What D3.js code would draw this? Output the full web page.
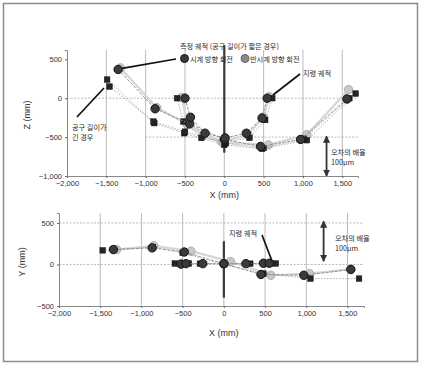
<!DOCTYPE html>
<html>
<head>
<meta charset="utf-8">
<script src="https://cdn.jsdelivr.net/npm/d3@7"></script>
<style>
  body { margin: 0; background: #fff; }
  svg { display: block; }
  text { font-family: "Liberation Sans", Arial, sans-serif; fill: #333; -webkit-font-smoothing: antialiased; }
  .kr { font-family: "Noto Sans CJK KR", sans-serif; fill: #2a2a2a; }
</style>
</head>
<body>
<svg id="chart" width="421" height="372"></svg>
<script>
// ticks
const xTicks = [-2000, -1500, -1000, -500, 0, 500, 1000, 1500];
const zTicks = [-1000, -500, 0, 500];
const yTicks = [-500, 0, 500];

// X-Z plane, small circle (inner path)
const zxInnerX      = [-500, -430, -245, 10, 280, 480, 545];
const zxInnerCw     = [0, -245, -450, -510, -450, -255, 0];
const zxInnerCcwX   = [-540, -470, -270, -30, 300, 500, 570];
const zxInnerCcw    = [10, -335, -480, -560, -470, -240, 20];
const zxInnerLongX  = [-600, -520, -290, 10, 320, 520, 610];
const zxInnerLong   = [0, -300, -510, -560, -510, -280, 0];

// X-Z plane, large path (outer)
const zxOuterX      = [-1350, -880, -440, 0, 460, 970, 1560];
const zxOuterCw     = [370, -135, -330, -530, -620, -530, -10];
const zxOuterCcwX   = [-1320, -860, -470, -20, 560, 1050, 1580];
const zxOuterCcw    = [390, -120, -335, -570, -600, -470, 110];
const zxOuterLongX  = [-1490, -890, -510, 0, 480, 1050, 1670];
const zxOuterLong   = [240, -320, -450, -600, -650, -540, 60];
const zxOuterLong2X = [-1460, -900, -500, 20, 500, 1010, 1590];
const zxOuterLong2  = [150, -300, -430, -580, -640, -520, 0];

// X-Y plane, small circle (inner path)
const xyInnerX      = [-520, -460, -255, 0, 267, 480, 550];
const xyInnerCw     = [5, 10, 10, 10, 10, 15, 15];
const xyInnerLongX  = [-595, -425, -290, 10, 320, 560, 630];
const xyInnerLong   = [12, 12, 10, 8, 10, 12, 12];

// X-Y plane, large path (outer)
const xyOuterX      = [-1340, -870, -480, 0, 450, 970, 1540];
const xyOuterCw     = [180, 200, 150, 10, -120, -130, -60];
const xyOuterCcwX   = [-1300, -850, -400, 80, 570, 1040, 1540];
const xyOuterCcw    = [180, 225, 160, 35, -130, -110, -55];
const xyOuterLongX  = [-1470, -860, -500, 0, 480, 1050, 1640];
const xyOuterLong   = [170, 210, 140, 0, -110, -170, -170];

const svg = d3.select('#chart');

svg.append('rect')
  .attr('x', 3.5).attr('y', 3.5)
  .attr('width', 414).attr('height', 358)
  .attr('fill', '#fff').attr('stroke', '#8c8c8c').attr('stroke-width', 1.5);

const defs = svg.append('defs');
defs.append('marker')
  .attr('id', 'head')
  .attr('viewBox', '0 0 10 10')
  .attr('refX', 9).attr('refY', 5)
  .attr('markerWidth', 4).attr('markerHeight', 5)
  .attr('orient', 'auto-start-reverse')
  .append('path').attr('d', 'M0,0L10,5L0,10z').attr('fill', '#333');

// scales
const xTop = d3.scaleLinear().domain([-2000, 1700]).range([67, 358]);
const zTop = d3.scaleLinear().domain([-1000, 620]).range([176, 50]);
const xBot = d3.scaleLinear().domain([-2000, 1700]).range([59, 364]);
const yBot = d3.scaleLinear().domain([-500, 620]).range([306, 213]);

const fmt = d3.format(',');

function drawFrame(sx, sy, vTicks, hGrid, zeroSpan, yLabel, labelPos, titleY) {
  const g = svg.append('g');
  const [y0, y1] = sy.range();

  // vertical grid
  g.selectAll('.vg').data(xTicks.slice(1)).enter().append('line')
    .attr('x1', d => sx(d)).attr('x2', d => sx(d))
    .attr('y1', y0).attr('y2', y1)
    .attr('stroke', '#bbb').attr('stroke-width', 1);

  // horizontal grid
  g.selectAll('.hg').data(hGrid).enter().append('line')
    .attr('x1', d => sx(d.from)).attr('x2', sx.range()[1])
    .attr('y1', d => sy(d.v)).attr('y2', d => sy(d.v))
    .attr('stroke', '#aaa').attr('stroke-width', 0.8)
    .attr('stroke-dasharray', '2,1.5');

  // axes
  const xAxis = d3.axisBottom(sx).tickValues(xTicks).tickFormat(fmt).tickSize(2).tickPadding(3);
  const ax = g.append('g').attr('transform', `translate(0,${y0})`).call(xAxis);
  const yAxis = d3.axisLeft(sy).tickValues(vTicks).tickFormat(fmt).tickSize(2).tickPadding(3);
  const ay = g.append('g').attr('transform', `translate(${sx.range()[0]},0)`).call(yAxis);
  [ax, ay].forEach(a => {
    a.select('.domain').attr('stroke', '#888');
    a.selectAll('.tick line').attr('stroke', '#666');
    a.selectAll('.tick text').attr('font-size', 7.5).attr('fill', '#333')
      .attr('font-family', '"Liberation Sans", Arial, sans-serif');
  });

  // thick zero line
  g.append('line')
    .attr('x1', sx(0)).attr('x2', sx(0))
    .attr('y1', sy(zeroSpan[0])).attr('y2', sy(zeroSpan[1]))
    .attr('stroke', '#3a3a3a').attr('stroke-width', 2.2);

  g.append('text')
    .attr('transform', `translate(${labelPos[0]},${labelPos[1]}) rotate(-90)`)
    .attr('text-anchor', 'middle').attr('font-size', 9)
    .text(yLabel);
  g.append('text')
    .attr('x', sx(0)).attr('y', titleY)
    .attr('text-anchor', 'middle').attr('font-size', 9)
    .text('X (mm)');
}

function plotSeries(xs, vs, sx, sy, kind, lineStyle) {
  const pts = d3.zip(xs, vs);
  const line = d3.line().x(d => sx(d[0])).y(d => sy(d[1]));
  const g = svg.append('g');
  g.append('path').attr('d', line(pts))
    .attr('fill', 'none')
    .attr('stroke', lineStyle.color)
    .attr('stroke-width', lineStyle.width)
    .attr('stroke-dasharray', lineStyle.dash || null);
  return { g, pts, kind, sx, sy };
}

function drawMarks(s) {
  const { g, pts, kind, sx, sy } = s;
  if (kind === 'square') {
    g.selectAll('rect').data(pts).enter().append('rect')
      .attr('x', d => sx(d[0]) - 2.8).attr('y', d => sy(d[1]) - 2.8)
      .attr('width', 5.6).attr('height', 5.6)
      .attr('fill', '#252525').attr('stroke', '#111').attr('stroke-width', 0.5);
  } else {
    const dark = kind === 'cw';
    g.selectAll('circle').data(pts).enter().append('circle')
      .attr('cx', d => sx(d[0])).attr('cy', d => sy(d[1]))
      .attr('r', 4.2)
      .attr('fill', dark ? '#3a3a3a' : '#c8c8c8')
      .attr('stroke', dark ? '#151515' : '#adadad')
      .attr('stroke-width', 1);
  }
}

const lineCw   = { color: '#8a8a8a', width: 0.9, dash: '3,1.5' };
const lineCcw  = { color: '#d6d6d6', width: 2.2 };
const lineLong = { color: '#9a9a9a', width: 0.8, dash: '1.5,1.5' };

// top panel
drawFrame(xTop, zTop, zTicks,
  [{ v: 0, from: -2000 }, { v: -500, from: -1000 }],
  [680, -700], 'Z (mm)', [30, 115], 198);

const topSeries = [
  plotSeries(zxOuterCcwX, zxOuterCcw, xTop, zTop, 'ccw', lineCcw),
  plotSeries(zxInnerCcwX, zxInnerCcw, xTop, zTop, 'ccw', lineCcw),
  plotSeries(zxOuterLongX, zxOuterLong, xTop, zTop, 'square', lineLong),
  plotSeries(zxOuterLong2X, zxOuterLong2, xTop, zTop, 'square', lineLong),
  plotSeries(zxInnerLongX, zxInnerLong, xTop, zTop, 'square', lineLong),
  plotSeries(zxOuterX, zxOuterCw, xTop, zTop, 'cw', lineCw),
  plotSeries(zxInnerX, zxInnerCw, xTop, zTop, 'cw', lineCw)
];
topSeries.forEach(drawMarks);

// bottom panel
drawFrame(xBot, yBot, yTicks,
  [{ v: 500, from: -2000 }, { v: 0, from: -2000 }],
  [280, -400], 'Y (mm)', [25, 262], 336);

const botSeries = [
  plotSeries(xyOuterCcwX, xyOuterCcw, xBot, yBot, 'ccw', lineCcw),
  plotSeries(xyOuterLongX, xyOuterLong, xBot, yBot, 'square', lineLong),
  plotSeries(xyInnerLongX, xyInnerLong, xBot, yBot, 'square', lineLong),
  plotSeries(xyOuterX, xyOuterCw, xBot, yBot, 'cw', lineCw),
  plotSeries(xyInnerX, xyInnerCw, xBot, yBot, 'cw', lineCw)
];
botSeries.forEach(drawMarks);

// annotations
function label(x, y, t, size) {
  svg.append('text').attr('class', 'kr')
    .attr('x', x).attr('y', y).attr('font-size', size || 7.2)
    .text(t);
}
function pointer(x1, y1, x2, y2) {
  svg.append('line')
    .attr('x1', x1).attr('y1', y1).attr('x2', x2).attr('y2', y2)
    .attr('stroke', '#111').attr('stroke-width', 1.7);
}
function scaleArrow(x, y1, y2) {
  svg.append('line')
    .attr('x1', x).attr('y1', y1).attr('x2', x).attr('y2', y2)
    .attr('stroke', '#333').attr('stroke-width', 1.8)
    .attr('marker-start', 'url(#head)').attr('marker-end', 'url(#head)');
}

// legend
label(180, 49, '측정 궤적 (공구 길이가 짧은 경우)');
svg.append('circle').attr('cx', 184.5).attr('cy', 58.5).attr('r', 4)
  .attr('fill', '#3a3a3a').attr('stroke', '#151515');
label(190, 61.5, '시계 방향 회전');
svg.append('circle').attr('cx', 245).attr('cy', 58.5).attr('r', 4)
  .attr('fill', '#8a8a8a').attr('stroke', '#666');
label(250, 61.5, '반시계 방향 회전');
pointer(176, 59, xTop(-1300), zTop(370) - 1);

label(72, 130, '공구 길이가');
label(72, 140, '긴 경우');
pointer(77, 117, 104, 88);

label(303, 76, '지령 궤적');
pointer(300, 74, 273, 95);

scaleArrow(xTop(1300), zTop(-490), zTop(-1000));
label(331, 155, '오차의 배율');
label(331, 164.5, '100μm');

label(229, 236, '지령 궤적');
pointer(262, 235, 272, 261);

scaleArrow(xBot(1210), yBot(520), yBot(40));
label(335, 241, '오차의 배율');
label(335, 250.5, '100μm');
</script>
</body>
</html>
